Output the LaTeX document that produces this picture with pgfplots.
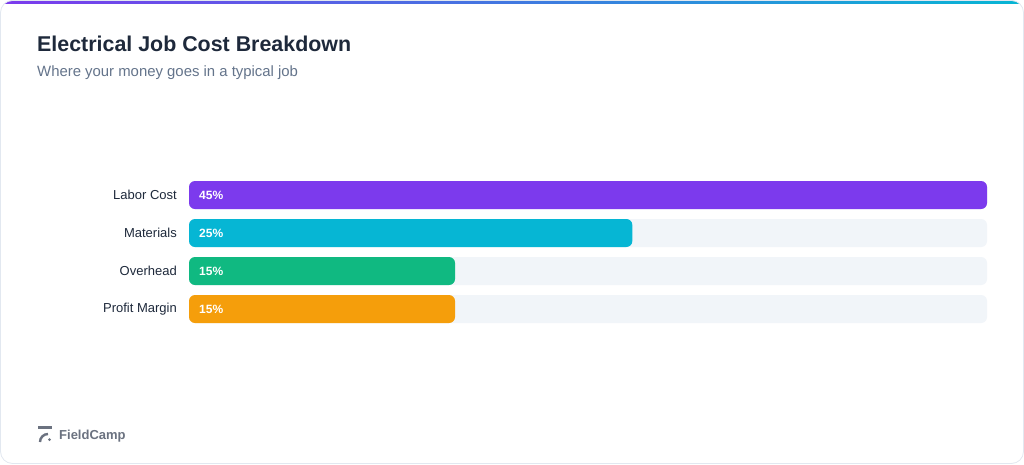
\documentclass[border=0pt]{standalone}
\usepackage{pgfplots}
\pgfplotsset{compat=1.18}
\usepackage{fontspec}
\setmainfont{Liberation Sans}
\usetikzlibrary{shadings}

\definecolor{ink}{HTML}{1E293B}
\definecolor{subink}{HTML}{64748B}
\definecolor{logo}{HTML}{6B7280}
\definecolor{track}{HTML}{F1F5F9}
\definecolor{cardline}{HTML}{E2E8F0}
\definecolor{cpurple}{HTML}{7C3AED}
\definecolor{ccyan}{HTML}{06B6D4}
\definecolor{cgreen}{HTML}{10B981}
\definecolor{corange}{HTML}{F59E0B}

\begin{document}
\begin{tikzpicture}[x=1pt, y=1pt]
  \path[use as bounding box] (0,0) rectangle (1024,464);
  % card
  \begin{scope}
    \clip[rounded corners=12pt] (0.5,0.5) rectangle (1023.5,463.5);
    \fill[white] (0,0) rectangle (1024,464);
    \shade[left color=cpurple, right color=ccyan] (0,460) rectangle (1024,464);
  \end{scope}
  \draw[cardline, line width=0.8pt, rounded corners=12pt] (0.5,0.5) rectangle (1023.5,463.5);

  % title
  \node[anchor=base west, inner sep=0pt, text=ink, font=\fontsize{21.4}{25}\selectfont\bfseries] at (37,464-51.5) {Electrical Job Cost Breakdown};
  \node[anchor=base west, inner sep=0pt, text=subink, font=\fontsize{14.9}{18}\selectfont] at (37,464-77) {Where your money goes in a typical job};

  % footer logo
  \draw[logo, line width=2.4pt] (38,464-427.5) -- (52,464-427.5);
  \draw[logo, line width=2.4pt] (40,464-442) arc[start angle=180, end angle=90, radius=8];
  \fill[logo] (49.5,464-439.5) circle (1.5);
  \node[anchor=base west, inner sep=0pt, text=logo, font=\fontsize{13}{16}\selectfont\bfseries] at (59,464-439) {FieldCamp};

  \begin{axis}[
    at={(189pt,136pt)}, anchor=south west,
    scale only axis, width=798pt, height=152pt,
    xmin=0, xmax=45, ymin=0.5, ymax=4.5, y dir=reverse,
    axis line style={draw=none}, major tick length=0pt,
    xtick=\empty, ytick={1,2,3,4},
    yticklabels={Labor Cost, Materials, Overhead, Profit Margin},
    yticklabel style={inner sep=0pt, xshift=-12pt, text=ink, font=\fontsize{13}{15}\selectfont},
    clip=false,
  ]
    \addplot[xbar, bar width=28pt, bar shift=0pt, fill=track, draw=none, rounded corners=6pt]
      coordinates {(45,1) (45,2) (45,3) (45,4)};
    \addplot[xbar, bar width=28pt, bar shift=0pt, fill=cpurple, draw=none, rounded corners=6pt]
      coordinates {(45,1)};
    \addplot[xbar, bar width=28pt, bar shift=0pt, fill=ccyan, draw=none, rounded corners=6pt]
      coordinates {(25,2)};
    \addplot[xbar, bar width=28pt, bar shift=0pt, fill=cgreen, draw=none, rounded corners=6pt]
      coordinates {(15,3)};
    \addplot[xbar, bar width=28pt, bar shift=0pt, fill=corange, draw=none, rounded corners=6pt]
      coordinates {(15,4)};
    \addplot[draw=none, mark=none, point meta=explicit symbolic,
      nodes near coords={\pgfplotspointmeta\%},
      nodes near coords style={anchor=west, inner sep=0pt, xshift=10pt, yshift=-0.8pt, text=white, font=\fontsize{12}{14}\selectfont\bfseries}]
      coordinates {(0,1) [45] (0,2) [25] (0,3) [15] (0,4) [15]};
  \end{axis}
\end{tikzpicture}
\end{document}
